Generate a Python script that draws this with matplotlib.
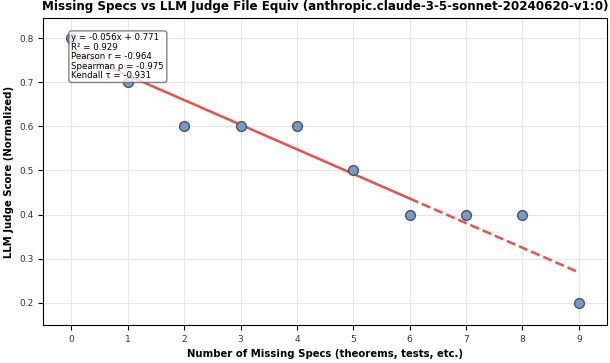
import matplotlib
matplotlib.use("Agg")
import matplotlib.pyplot as plt
import numpy as np

missing_specs = [0, 1, 2, 3, 4, 5, 6, 7, 8, 9]
judge_score = [0.8, 0.7, 0.6, 0.6, 0.6, 0.5, 0.4, 0.4, 0.4, 0.2]
stats_lines = ["y = -0.056x + 0.771", "R² = 0.929", "Pearson r = -0.964",
               "Spearman ρ = -0.975", "Kendall τ = -0.931"]
solid_end = 6

x = np.array(missing_specs, dtype=float)
y = np.array(judge_score)
slope, intercept = np.polyfit(x, y, 1)

fig, ax = plt.subplots(figsize=(6.1, 3.63), dpi=100)
fig.subplots_adjust(left=0.071, right=0.995, top=0.95, bottom=0.105)

ax.scatter(x, y, s=50, color="#7799c2", edgecolor="#46566b", linewidth=1, zorder=3)
xs = np.linspace(0, solid_end, 50)
ax.plot(xs, slope * xs + intercept, color="#e8504a", linewidth=1.8, zorder=2)
xd = np.linspace(solid_end, 9, 50)
ax.plot(xd, slope * xd + intercept, color="#e8504a", linewidth=1.8, linestyle="--", zorder=2)

ax.set_xlim(-0.5, 9.5)
ax.set_ylim(0.15, 0.845)
ax.set_xticks(missing_specs)
ax.set_yticks([0.2, 0.3, 0.4, 0.5, 0.6, 0.7, 0.8])
ax.tick_params(labelsize=6.5, labelcolor="#333333")
ax.grid(True, color="#e6e6e6", linewidth=0.8)
ax.set_axisbelow(True)

ax.set_xlabel("Number of Missing Specs (theorems, tests, etc.)", fontsize=7.3, fontweight="bold")
ax.set_ylabel("LLM Judge Score (Normalized)", fontsize=7.3, fontweight="bold")
ax.set_title("Missing Specs vs LLM Judge File Equiv (anthropic.claude-3-5-sonnet-20240620-v1:0)",
             fontsize=8.6, fontweight="bold")

ax.text(0.05, 0.95, "\n".join(stats_lines), transform=ax.transAxes, fontsize=6.2,
        va="top", ha="left", linespacing=1.05, zorder=5,
        bbox=dict(boxstyle="round,pad=0.3", facecolor="white", edgecolor="#666666", alpha=0.8))

fig.savefig("out.png", dpi=100)
